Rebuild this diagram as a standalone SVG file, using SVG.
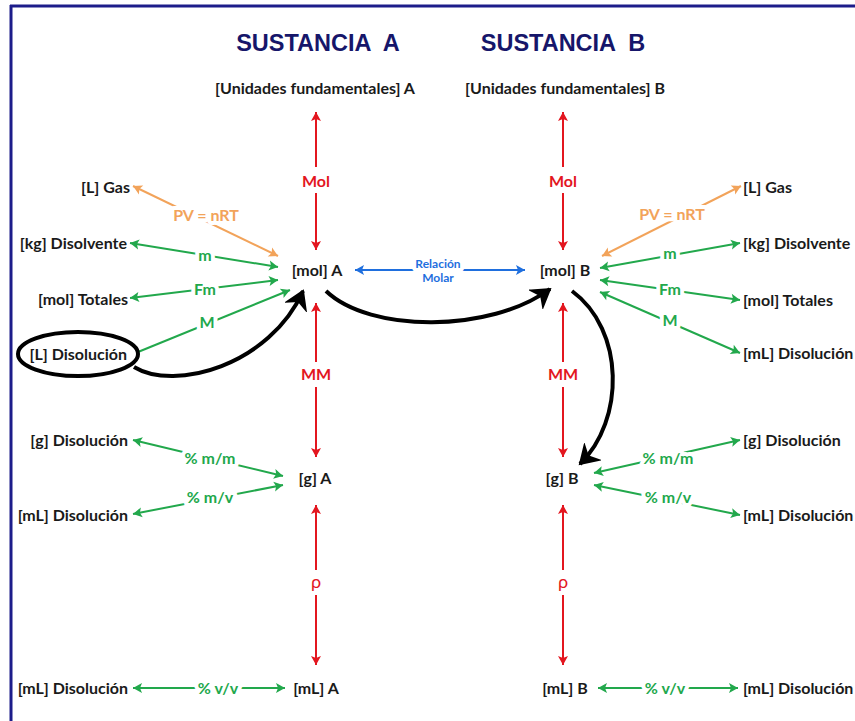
<svg xmlns="http://www.w3.org/2000/svg" width="855" height="721" viewBox="0 0 855 721">
<style>
.t{font-family:Lato,"Open Sans","Liberation Sans",sans-serif;font-weight:bold;font-size:16px;fill:#1a1a1a}
.ttl{font-family:"Liberation Sans",Arial,sans-serif;font-weight:bold;font-size:23.5px;fill:#16166a;white-space:pre}
.lb{font-family:Lato,"Open Sans","Liberation Sans",sans-serif;font-weight:bold;font-size:16px;paint-order:stroke;stroke:#fff;stroke-width:8px;stroke-linejoin:round;text-anchor:middle}
.red{fill:#e3161f}.grn{fill:#22a84c}.org{fill:#f2a35a}.blu{fill:#1f6fde}
.lr{stroke:#e3161f;stroke-width:2;fill:none;marker-end:url(#mr)}
.lg{stroke:#22a84c;stroke-width:2;fill:none;marker-start:url(#mg);marker-end:url(#mg)}
.lg1{stroke:#22a84c;stroke-width:2;fill:none;marker-end:url(#mg)}
.lo{stroke:#f2a35a;stroke-width:2;fill:none;marker-start:url(#mo);marker-end:url(#mo)}
.lb2{stroke:#1f6fde;stroke-width:2;fill:none;marker-start:url(#mb);marker-end:url(#mb)}
.lk{stroke:#000;stroke-width:4;fill:none;marker-end:url(#mk)}
</style>
<defs>
<marker id="mr" viewBox="0 0 12 12" refX="10" refY="6" markerWidth="12" markerHeight="12" markerUnits="userSpaceOnUse" orient="auto-start-reverse"><path d="M1,1 L10,6 L1,11 L3,6 z" fill="#e3161f"/></marker>
<marker id="mg" viewBox="0 0 12 12" refX="10" refY="6" markerWidth="12" markerHeight="12" markerUnits="userSpaceOnUse" orient="auto-start-reverse"><path d="M1,1 L10,6 L1,11 L3,6 z" fill="#22a84c"/></marker>
<marker id="mo" viewBox="0 0 12 12" refX="10" refY="6" markerWidth="12" markerHeight="12" markerUnits="userSpaceOnUse" orient="auto-start-reverse"><path d="M1,1 L10,6 L1,11 L3,6 z" fill="#f2a35a"/></marker>
<marker id="mb" viewBox="0 0 12 12" refX="10" refY="6" markerWidth="12" markerHeight="12" markerUnits="userSpaceOnUse" orient="auto-start-reverse"><path d="M1,1 L10,6 L1,11 L3,6 z" fill="#1f6fde"/></marker>
<marker id="mk" viewBox="0 0 24 24" refX="18" refY="12" markerWidth="24" markerHeight="24" markerUnits="userSpaceOnUse" orient="auto"><path d="M2,2 L18,12 L2,22 L7,12 z" fill="#000" stroke="#000" stroke-width="2" stroke-linejoin="miter"/></marker>
</defs>
<rect width="855" height="721" fill="#fff"/>
<g id="border"><line x1="10" y1="6" x2="855" y2="6" stroke="#1c1c8a" stroke-width="3"/><line x1="11" y1="5" x2="11" y2="721" stroke="#1c1c8a" stroke-width="3"/></g>
<g id="titles">
<text class="ttl" x="318" y="51" text-anchor="middle" xml:space="preserve">SUSTANCIA  A</text>
<text class="ttl" x="563" y="51" text-anchor="middle" xml:space="preserve">SUSTANCIA  B</text>
</g>
<g id="connectors">
<line class="lr" x1="316" y1="167" x2="316" y2="112"/><line class="lr" x1="316" y1="193" x2="316" y2="250"/>
<line class="lr" x1="316" y1="362" x2="316" y2="303"/><line class="lr" x1="316" y1="387" x2="316" y2="457"/>
<line class="lr" x1="316" y1="570" x2="316" y2="505"/><line class="lr" x1="316" y1="595" x2="316" y2="665"/>
<line class="lr" x1="563" y1="167" x2="563" y2="112"/><line class="lr" x1="563" y1="193" x2="563" y2="250"/>
<line class="lr" x1="563" y1="362" x2="563" y2="303"/><line class="lr" x1="563" y1="387" x2="563" y2="457"/>
<line class="lr" x1="563" y1="570" x2="563" y2="505"/><line class="lr" x1="563" y1="595" x2="563" y2="665"/>
<line class="lb2" x1="355" y1="270" x2="525" y2="270"/>
<line class="lo" x1="133" y1="186" x2="278" y2="256"/>
<line class="lg" x1="130" y1="243" x2="278" y2="267"/>
<line class="lg" x1="130" y1="298" x2="278" y2="280"/>
<line class="lg1" x1="138" y1="352" x2="290" y2="290"/>
<line class="lg" x1="133" y1="440" x2="283" y2="476"/>
<line class="lg" x1="133" y1="514" x2="283" y2="485"/>
<line class="lg" x1="133" y1="688" x2="285" y2="688"/>
<line class="lo" x1="602" y1="256" x2="741" y2="186"/>
<line class="lg" x1="600" y1="268" x2="740" y2="243"/>
<line class="lg" x1="600" y1="280" x2="740" y2="300"/>
<line class="lg" x1="600" y1="292" x2="740" y2="353"/>
<line class="lg" x1="594" y1="473" x2="740" y2="440"/>
<line class="lg" x1="594" y1="485" x2="740" y2="515"/>
<line class="lg" x1="598" y1="688" x2="738" y2="688"/>
<path class="lk" d="M134,367 C175,392 270,365 303,291"/>
<path class="lk" d="M326,291 C370,333 490,333 550,289"/>
<path class="lk" d="M572,291 C625,330 625,420 580,464"/>
</g>
<g id="labels">
<text class="lb red" x="316" y="187">Mol</text><text class="lb red" x="316" y="380">MM</text><text class="lb red" x="316" y="588" style="font-weight:normal;font-size:18px">ρ</text>
<text class="lb red" x="563" y="187">Mol</text><text class="lb red" x="563" y="380">MM</text><text class="lb red" x="563" y="588" style="font-weight:normal;font-size:18px">ρ</text>
<text class="lb blu" x="438" y="268" style="font-size:12px">Relación</text><text class="lb blu" x="438" y="282" style="font-size:12px">Molar</text>
<text class="lb org" x="206" y="221">PV = nRT</text>
<text class="lb grn" x="205" y="261">m</text>
<text class="lb grn" x="205" y="295">Fm</text>
<text class="lb grn" x="207" y="328">M</text>
<text class="lb grn" x="210" y="464">% m/m</text>
<text class="lb grn" x="210" y="503">% m/v</text>
<text class="lb grn" x="218" y="694">% v/v</text>
<text class="lb org" x="672" y="220">PV = nRT</text>
<text class="lb grn" x="670" y="259">m</text>
<text class="lb grn" x="670" y="295">Fm</text>
<text class="lb grn" x="670" y="326">M</text>
<text class="lb grn" x="668" y="464">% m/m</text>
<text class="lb grn" x="668" y="503">% m/v</text>
<text class="lb grn" x="665" y="694">% v/v</text>
</g>
<g id="uf-a"><text class="t" x="315" y="94" text-anchor="middle">[Unidades fundamentales] A</text></g>
<g id="uf-b"><text class="t" x="565" y="94" text-anchor="middle">[Unidades fundamentales] B</text></g>
<g id="mol-a"><text class="t" x="317" y="276" text-anchor="middle">[mol] A</text></g>
<g id="mol-b"><text class="t" x="565" y="276" text-anchor="middle">[mol] B</text></g>
<g id="g-a"><text class="t" x="315" y="484" text-anchor="middle">[g] A</text></g>
<g id="g-b"><text class="t" x="562" y="484" text-anchor="middle">[g] B</text></g>
<g id="ml-a"><text class="t" x="316" y="694" text-anchor="middle">[mL] A</text></g>
<g id="ml-b"><text class="t" x="565" y="694" text-anchor="middle">[mL] B</text></g>
<g id="l-gas-a"><text class="t" x="130" y="193" text-anchor="end">[L] Gas</text></g>
<g id="kg-a"><text class="t" x="127" y="249" text-anchor="end">[kg] Disolvente</text></g>
<g id="tot-a"><text class="t" x="128" y="305" text-anchor="end">[mol] Totales</text></g>
<g id="ldis-a"><ellipse cx="78" cy="354" rx="60" ry="22" fill="none" stroke="#000" stroke-width="4"/><text class="t" x="127" y="360" text-anchor="end">[L] Disolución</text></g>
<g id="gdis-a"><text class="t" x="128" y="446" text-anchor="end">[g] Disolución</text></g>
<g id="mldis-a"><text class="t" x="128" y="521" text-anchor="end">[mL] Disolución</text></g>
<g id="mlvv-a"><text class="t" x="128" y="694" text-anchor="end">[mL] Disolución</text></g>
<g id="l-gas-b"><text class="t" x="743" y="193">[L] Gas</text></g>
<g id="kg-b"><text class="t" x="743" y="249">[kg] Disolvente</text></g>
<g id="tot-b"><text class="t" x="743" y="306">[mol] Totales</text></g>
<g id="mldis-b"><text class="t" x="743" y="359">[mL] Disolución</text></g>
<g id="gdis-b"><text class="t" x="743" y="446">[g] Disolución</text></g>
<g id="mldis2-b"><text class="t" x="743" y="521">[mL] Disolución</text></g>
<g id="mlvv-b"><text class="t" x="743" y="694">[mL] Disolución</text></g>
</svg>
